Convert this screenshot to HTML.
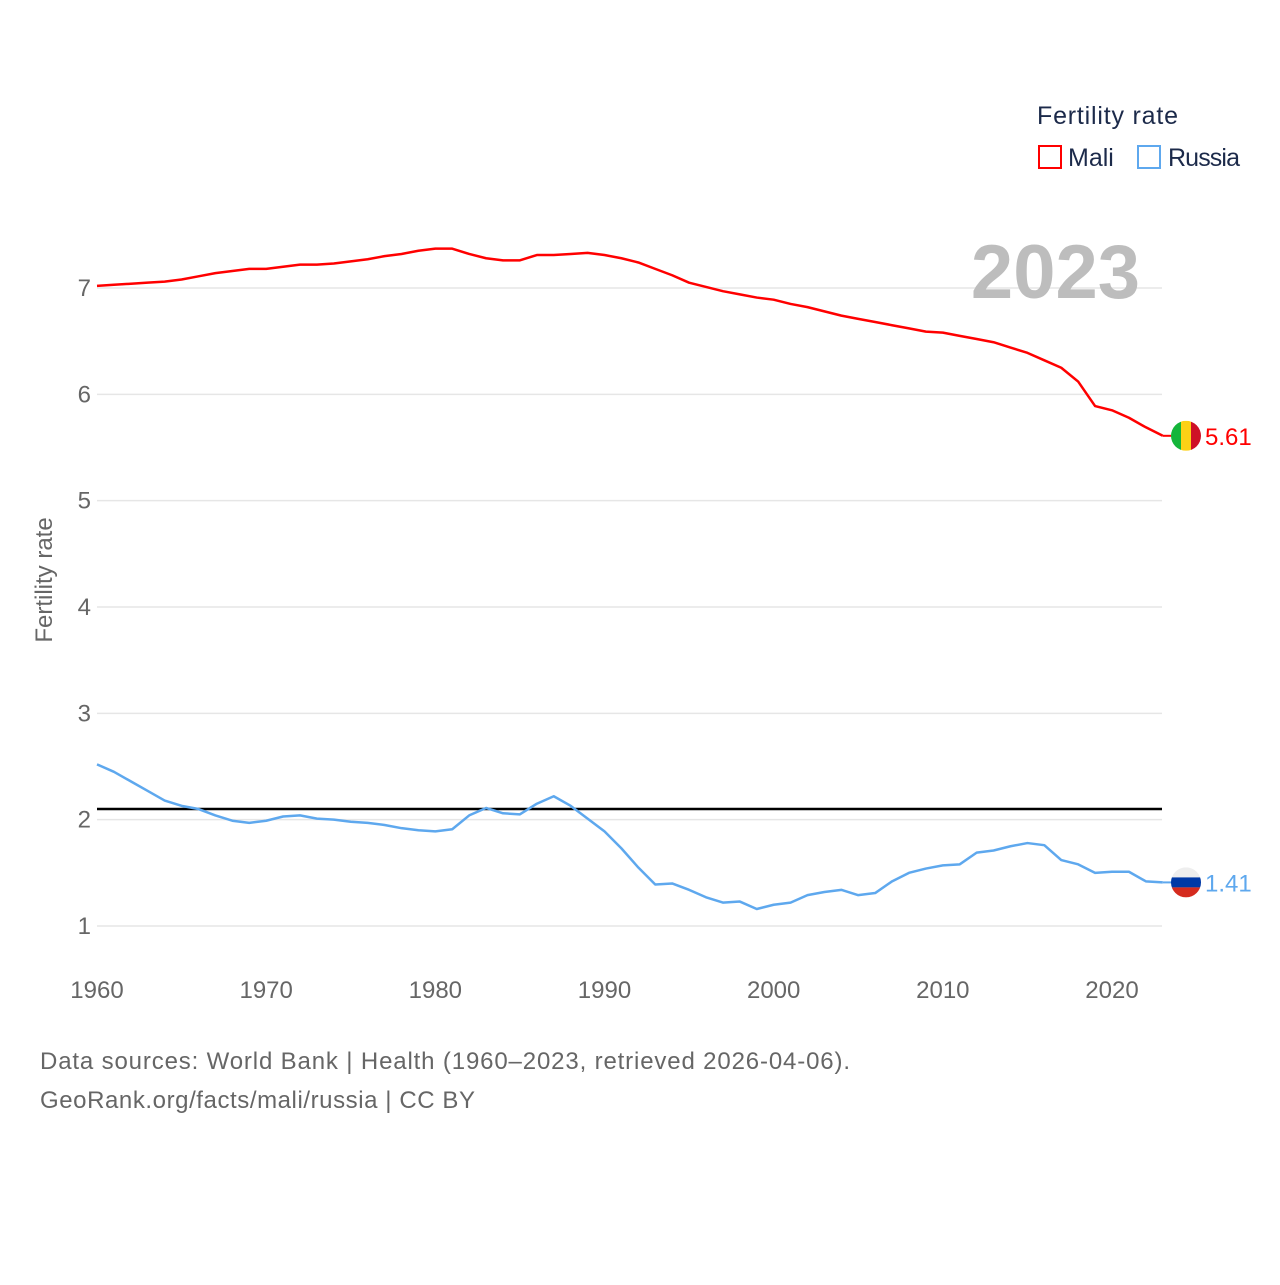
<!DOCTYPE html>
<html><head><meta charset="utf-8"><style>
body{margin:0;background:#fff;font-family:"Liberation Sans",sans-serif}
svg text{font-family:"Liberation Sans",sans-serif}
</style></head><body>
<svg id="chart" width="1280" height="1280">
<g id="grid"></g>
<text x="1140" y="298" text-anchor="end" font-size="76" font-weight="bold" fill="#bdbdbd">2023</text>
<text x="52" y="580" transform="rotate(-90 52 580)" text-anchor="middle" font-size="24" fill="#666">Fertility rate</text>
<g>
<text x="1037" y="124" font-size="25" fill="#1c2a4a" textLength="141">Fertility rate</text>
<g><rect x="1039" y="146" width="22" height="22" fill="none" stroke="#f00" stroke-width="2"/><text x="1068" y="166" font-size="25" fill="#1c2a4a">Mali</text></g>
<g><rect x="1138" y="146" width="22" height="22" fill="none" stroke="#5ea8ee" stroke-width="2"/><text x="1168" y="166" font-size="25" fill="#1c2a4a" textLength="72">Russia</text></g>
</g>
<g id="series"></g>
<text x="40" y="1069" font-size="24" fill="#666" textLength="810">Data sources: World Bank | Health (1960–2023, retrieved 2026-04-06).</text>
<text x="40" y="1108" font-size="24" fill="#666" textLength="435">GeoRank.org/facts/mali/russia | CC BY</text>
</svg>
<script>
const years=[];for(let y=1960;y<=2023;y++)years.push(y);
const mali=[7.02,7.03,7.04,7.05,7.06,7.08,7.11,7.14,7.16,7.18,7.18,7.20,7.22,7.22,7.23,7.25,7.27,7.30,7.32,7.35,7.37,7.37,7.32,7.28,7.26,7.26,7.31,7.31,7.32,7.33,7.31,7.28,7.24,7.18,7.12,7.05,7.01,6.97,6.94,6.91,6.89,6.85,6.82,6.78,6.74,6.71,6.68,6.65,6.62,6.59,6.58,6.55,6.52,6.49,6.44,6.39,6.32,6.25,6.12,5.89,5.85,5.78,5.69,5.61];
const russia=[2.52,2.45,2.36,2.27,2.18,2.13,2.10,2.04,1.99,1.97,1.99,2.03,2.04,2.01,2.00,1.98,1.97,1.95,1.92,1.90,1.89,1.91,2.04,2.11,2.06,2.05,2.15,2.22,2.13,2.01,1.89,1.73,1.55,1.39,1.40,1.34,1.27,1.22,1.23,1.16,1.20,1.22,1.29,1.32,1.34,1.29,1.31,1.42,1.50,1.54,1.57,1.58,1.69,1.71,1.75,1.78,1.76,1.62,1.58,1.50,1.51,1.51,1.42,1.41];
const yTicks=[1,2,3,4,5,6,7];
const xTicks=[1960,1970,1980,1990,2000,2010,2020];
const replacement=2.1;
const NS="http://www.w3.org/2000/svg";
const xs=y=>97+(y-1960)*(1112-97)/60;
const ys=v=>288+(7-v)*(926-288)/6;
function mk(t,a,p){const e=document.createElementNS(NS,t);for(const k in a)e.setAttribute(k,a[k]);p.appendChild(e);return e;}
const grid=document.getElementById('grid'),ser=document.getElementById('series');
yTicks.forEach(v=>{
 const l=mk('line',{x1:97,x2:1162,y1:ys(v),y2:ys(v),stroke:'#e6e6e6','stroke-width':1.5},grid);
 
 
 const t=mk('text',{x:91,y:ys(v)+8,'text-anchor':'end','font-size':24,fill:'#666'},grid);t.textContent=v;
 
 
});
xTicks.forEach(v=>{
 const t=mk('text',{x:xs(v),y:998,'text-anchor':'middle','font-size':24,fill:'#666'},grid);t.textContent=v;
 
 
});
const rl=mk('line',{x1:97,x2:1162,y1:ys(replacement),y2:ys(replacement),stroke:'#000','stroke-width':2.5},ser);


function line(vals,col,name){
 const p=mk('polyline',{points:vals.map((v,i)=>xs(years[i])+','+ys(v)).join(' '),fill:'none',stroke:col,'stroke-width':2.5,'stroke-linejoin':'round'},ser);
 
 
}
line(mali,'#f00','mali');line(russia,'#5ea8ee','russia');
function endMark(vals,col,name,flag){
 const v=vals[vals.length-1],cx=1186,cy=ys(v);
 const g=mk('g',{},ser);
 
 
 mk('line',{x1:xs(2023),x2:cx-14,y1:cy,y2:cy,stroke:col,'stroke-width':2},g);
 const cp=mk('clipPath',{id:'c'+name},g);mk('circle',{cx:cx,cy:cy,r:15},cp);
 const gg=mk('g',{'clip-path':'url(#c'+name+')'},g);
 if(flag==='mali'){['#14b53a','#fcd116','#ce1126'].forEach((c,i)=>mk('rect',{x:cx-15+i*10,y:cy-15,width:10,height:30,fill:c},gg));}
 else{['#eee','#0039a6','#d52b1e'].forEach((c,i)=>mk('rect',{x:cx-15,y:cy-15+i*10,width:30,height:10,fill:c},gg));}
 const t=mk('text',{x:1205,y:cy+9,'font-size':24,fill:col},g);t.textContent=v.toFixed(2);
}
endMark(mali,'#f00','mali','mali');endMark(russia,'#5ea8ee','russia','russia');
</script>
</body></html>
